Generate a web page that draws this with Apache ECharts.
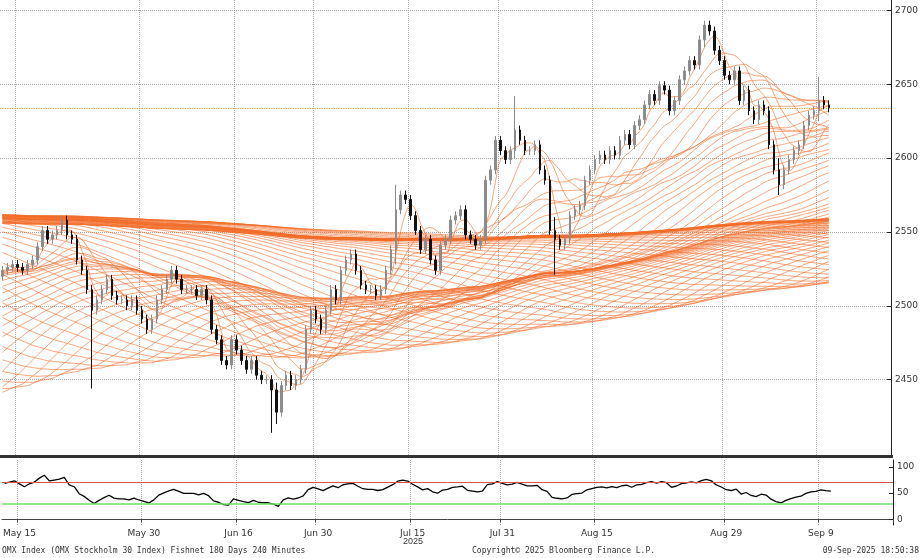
<!DOCTYPE html>
<html>
<head>
<meta charset="utf-8">
<script src="https://cdn.jsdelivr.net/npm/echarts@6/dist/echarts.min.js"></script>
<style>html,body{margin:0;padding:0;background:#fff}#chart{width:921px;height:558px}</style>
</head>
<body>
<div id="chart"></div>
<script>
// closes before May 15 (off screen, each held 4 bars) - only feed the long averages
var priorCloses = [2510,2500,2520,2530,2545,2555,2560,2565,2575,2585,2595,2605,2615,2625,2615,2605,2595,2585,2575,2565,
  2555,2545,2535,2525,2515,2520,2525,2535,2545,2555,2560,2565,2555,2545,2535,2530,2535,2545,2555,2565,
  2575,2585,2590,2595,2605,2615,2625,2645,2655,2665,2675,2695,2715,2735,2745,2755,2765,2775,2755,2735,
  2715,2695,2665,2635,2595,2565,2530,2480,2400,2300,2250,2280,2330,2380,2400,2420,2440,2460,2450,2470,
  2480,2490,2500,2510,2520,2515,2525,2530,2520,2522];

// visible 240-minute closes, May 15 -> Sep 9
var closes = [2524,2526,2528,2526,2524,2528,2531,2540,2551,2545,2548,2551,2558,2548,2545,2531,2524,2511,2497,2504,
  2511,2518,2507,2504,2504,2500,2504,2497,2491,2484,2491,2504,2511,2518,2524,2518,2511,2511,2511,2507,
  2511,2504,2484,2477,2463,2460,2477,2470,2463,2457,2463,2453,2450,2450,2443,2428,2446,2453,2446,2450,
  2457,2484,2497,2491,2484,2497,2511,2504,2524,2531,2535,2524,2514,2511,2511,2507,2511,2524,2538,2565,
  2575,2572,2561,2551,2538,2545,2531,2524,2541,2545,2558,2561,2565,2548,2545,2541,2545,2585,2592,2612,
  2605,2599,2605,2619,2612,2605,2605,2609,2592,2585,2551,2545,2541,2545,2561,2565,2568,2585,2592,2599,
  2602,2599,2605,2602,2612,2616,2609,2622,2626,2636,2643,2639,2649,2646,2632,2639,2653,2659,2666,2663,
  2680,2690,2686,2673,2666,2656,2653,2659,2639,2646,2632,2626,2636,2632,2609,2592,2582,2592,2599,2605,
  2609,2622,2629,2632,2639,2636,2634];

// notable wicks: index -> [low, high]
var wicks = {18:[2444,2512], 54:[2414,2450], 55:[2420,2448], 79:[2528,2582], 103:[2600,2642],
  111:[2521,2560], 141:[2675,2693], 156:[2575,2600], 164:[2625,2655]};

var labelDays = {3:'May 15', 28:'May 30', 47:'Jun 16', 63:'Jun 30', 82:'Jul 15', 100:'Jul 31', 119:'Aug 15', 145:'Aug 29', 164:'Sep 9'};
var lastPrice = 2634;
var maPeriods = [];
for (var p = 4; p <= 400; p += 5) maPeriods.push(p);

var full = [];
priorCloses.forEach(function (c) { for (var k = 0; k < 4; k++) full.push(c); });
var offset = full.length;
closes.forEach(function (c) { full.push(c); });

var nCats = 179;
var cats = [];
for (var i = 0; i < nCats; i++) cats.push(labelDays[i] || '');

var ohlc = closes.map(function (c, i) {
  var o = i === 0 ? 2520 : closes[i - 1];
  var lo = Math.min(o, c) - 3, hi = Math.max(o, c) + 3;
  if (wicks[i]) { lo = Math.min(lo, wicks[i][0]); hi = Math.max(hi, wicks[i][1]); }
  return [o, c, lo, hi];
});

function ma(n) {
  var out = [];
  for (var i = offset; i < full.length; i++) {
    var s = 0;
    for (var k = 0; k < n; k++) s += full[i - k];
    out.push(+(s / n).toFixed(2));
  }
  return out;
}

function rsi(n) {
  var g = 0, l = 0, out = [];
  for (var i = 1; i < full.length; i++) {
    var d = full[i] - full[i - 1];
    var up = d > 0 ? d : 0, dn = d < 0 ? -d : 0;
    if (i <= n) { g += up / n; l += dn / n; }
    else { g = (g * (n - 1) + up) / n; l = (l * (n - 1) + dn) / n; }
    if (i >= offset) out.push(l === 0 ? 100 : +(100 - 100 / (1 + g / l)).toFixed(1));
  }
  return out;
}

var series = [];
maPeriods.forEach(function (p) {
  series.push({
    type: 'line', data: ma(p), showSymbol: false, silent: true, smooth: true,
    lineStyle: { color: '#f26d2a', width: 0.9, opacity: 0.7 }, z: 1
  });
});
series.push({
  type: 'candlestick', data: ohlc, barWidth: 2,
  itemStyle: { color: '#8c8c8c', color0: '#111', borderColor: '#8c8c8c', borderColor0: '#111', borderWidth: 1 },
  z: 5,
  markLine: {
    symbol: 'none', silent: true, label: { show: false },
    lineStyle: { color: '#f0a020', type: 'dotted', width: 1.2 },
    data: [{ yAxis: lastPrice }]
  }
});
series.push({
  type: 'line', xAxisIndex: 1, yAxisIndex: 1, data: rsi(14), showSymbol: false,
  lineStyle: { color: '#000', width: 1.3 },
  markLine: {
    symbol: 'none', silent: true, label: { show: false },
    data: [{ yAxis: 70, lineStyle: { color: '#e05050', type: 'solid', width: 1 } },
           { yAxis: 30, lineStyle: { color: '#6ee06e', type: 'solid', width: 1.5 } }]
  }
});

var gridSplit = { show: true, interval: function (i) { return !!labelDays[i]; }, lineStyle: { color: '#aaa', type: 'dotted' } };

var chart = echarts.init(document.getElementById('chart'));
chart.setOption({
  animation: false,
  backgroundColor: '#fff',
  textStyle: { fontFamily: 'DejaVu Sans' },
  grid: [
    { left: 0, right: 28, top: 0, height: 455 },
    { left: 0, right: 28, top: 460, height: 65 }
  ],
  xAxis: [
    { type: 'category', data: cats, gridIndex: 0, boundaryGap: true,
      axisLine: { show: false }, axisTick: { show: false }, axisLabel: { show: false }, splitLine: gridSplit },
    { type: 'category', data: cats, gridIndex: 1, boundaryGap: true,
      axisLine: { lineStyle: { color: '#444' } },
      axisTick: { show: true, length: 3, interval: function (i) { return !!labelDays[i]; }, lineStyle: { color: '#444' } },
      axisLabel: { interval: function (i) { return !!labelDays[i]; }, fontSize: 9, color: '#333', margin: 4 },
      splitLine: gridSplit }
  ],
  yAxis: [
    { type: 'value', gridIndex: 0, position: 'right', min: 2399, max: 2707, scale: true,
      axisLine: { show: true, lineStyle: { color: '#222' } },
      axisTick: { show: true, inside: true, length: 4, customValues: [2450, 2500, 2550, 2600, 2650, 2700] },
      axisLabel: { fontSize: 9, color: '#333', margin: 4, formatter: function (v) { return String(v); },
        customValues: [2450, 2500, 2550, 2600, 2650, 2700] },
      splitLine: { show: true, lineStyle: { color: '#aaa', type: 'dotted' } },
      interval: 50 },
    { type: 'value', gridIndex: 1, position: 'right', min: -11, max: 113,
      axisLine: { show: true, lineStyle: { color: '#222' } },
      axisTick: { show: true, inside: true, length: 4, customValues: [0, 50, 100] },
      axisLabel: { fontSize: 9, color: '#333', margin: 4, customValues: [0, 50, 100] },
      splitLine: { show: false } }
  ],
  series: series,
  graphic: [
    { type: 'rect', shape: { x: 0, y: 455, width: 893, height: 3 }, style: { fill: '#333' } },
    { type: 'text', left: 403, top: 537, style: { text: '2025', fontSize: 9, fill: '#333' } },
    { type: 'text', left: 2, top: 547, style: { text: 'OMX Index (OMX Stockholm 30 Index) Fishnet 180 Days 240 Minutes', fontSize: 8, fill: '#333', fontFamily: 'DejaVu Sans Mono' } },
    { type: 'text', left: 472, top: 547, style: { text: 'Copyright© 2025 Bloomberg Finance L.P.', fontSize: 8, fill: '#333', fontFamily: 'DejaVu Sans Mono' } },
    { type: 'text', right: 2, top: 547, style: { text: '09-Sep-2025 18:50:38', fontSize: 8, fill: '#333', fontFamily: 'DejaVu Sans Mono' } }
  ]
});
</script>
</body>
</html>
